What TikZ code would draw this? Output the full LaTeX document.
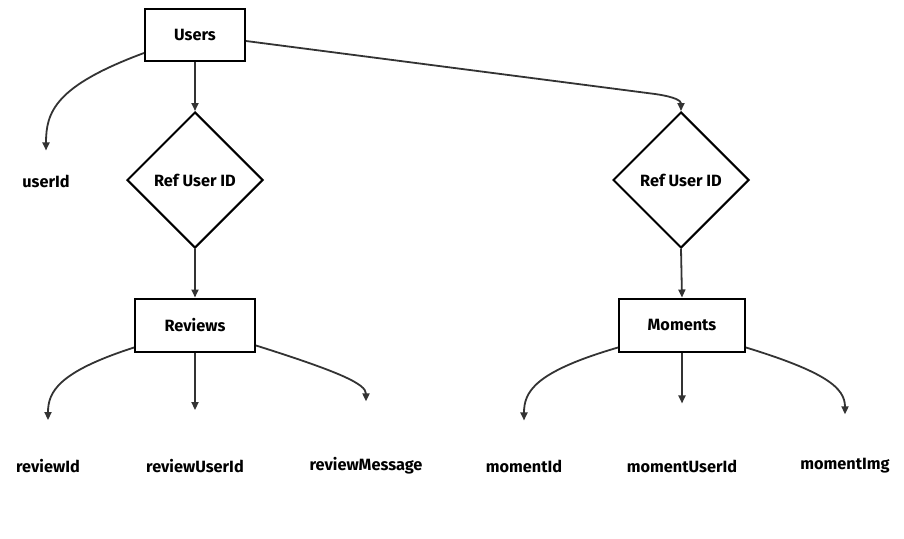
\documentclass[tikz,border=0pt]{standalone}
\usepackage{fontspec}
\setmainfont{Fira Sans}
\usepackage{xcolor}
\definecolor{Black}{RGB}{0,0,0}
\definecolor{Edge}{RGB}{51,51,51}
\definecolor{White}{RGB}{255,255,255}
\usetikzlibrary{shapes.geometric, arrows.meta, calc}
\tikzset{
	entity/.style={draw=Black, line width=2pt, fill=White, inner sep=0pt, font=\fontsize{16.3}{19}\selectfont\bfseries},
	refbox/.style={diamond, draw=Black, line width=2pt, fill=White, aspect=1, minimum width=136pt, minimum height=136pt, inner sep=0pt, font=\fontsize{16.3}{19}\selectfont\bfseries},
	field/.style={inner sep=0pt, font=\fontsize{16.3}{19}\selectfont\bfseries},
	link/.style={draw=Edge, line width=1.8pt, -{Triangle[width=7pt, length=8pt]}}
}
\begin{document}
\begin{tikzpicture}[x=1pt, y=-1pt]

		\useasboundingbox (0,0) rectangle (904,538);

		% Blocks
		\node[entity, minimum width=100pt, minimum height=52pt] (users) at (195,35) {Users};
		\node[refbox] (refA) at (195,180) {Ref User ID};
		\node[refbox] (refB) at (681,180) {Ref User ID};
		\node[entity, minimum width=120pt, minimum height=53pt] (reviews) at (195,325) {Reviews};
		\node[entity, minimum width=126pt, minimum height=53pt] (moments) at (682,325) {Moments};

		% Names
		\node[field] (userId) at (46,181) {userId};
		\node[field] (reviewId) at (48,466) {reviewId};
		\node[field] (reviewUserId) at (195,466) {reviewUserId};
		\node[field] (reviewMessage) at (366,466) {reviewMessage};
		\node[field] (momentId) at (524,466) {momentId};
		\node[field] (momentUserId) at (682,466) {momentUserId};
		\node[field] (momentImg) at (845,466) {momentImg};

		% Ends
		\coordinate (toUserId) at ($(userId.north)+(0,-24)$);
		\coordinate (toReviewId) at ($(reviewId.north)+(0,-39)$);
		\coordinate (toReviewUserId) at ($(reviewUserId.north)+(0,-49)$);
		\coordinate (toReviewMessage) at ($(reviewMessage.north)+(0,-56)$);
		\coordinate (toMomentId) at ($(momentId.north)+(0,-39)$);
		\coordinate (toMomentUserId) at ($(momentUserId.north)+(0,-56)$);
		\coordinate (toMomentImg) at ($(momentImg.north)+(0,-44)$);

		% Users
		\draw[link] ($(users.south west)+(0,-9)$) .. controls (55,86) and (46,112) .. (toUserId);
		\draw[link] (users.south) -- (refA.north);
		\draw[link] ($(users.east)+(0,6)$) -- (655,94) .. controls (676,97) and (681,101) .. (refB.north);

		% Refs
		\draw[link] (refA.south) -- (reviews.north);
		\draw[link] (refB.south) -- (moments.north);

		% Reviews
		\draw[link] ($(reviews.south west)+(0,-5)$) .. controls (58,372) and (48,392) .. (toReviewId);
		\draw[link] (reviews.south) -- (toReviewUserId);
		\draw[link] ($(reviews.south east)+(0,-7)$) .. controls (340,372) and (366,384) .. (toReviewMessage);

		% Moments
		\draw[link] ($(moments.south west)+(0,-5)$) .. controls (534,372) and (524,392) .. (toMomentId);
		\draw[link] (moments.south) -- (toMomentUserId);
		\draw[link] ($(moments.south east)+(0,-5)$) .. controls (826,372) and (845,388) .. (toMomentImg);

	\end{tikzpicture}
\end{document}
